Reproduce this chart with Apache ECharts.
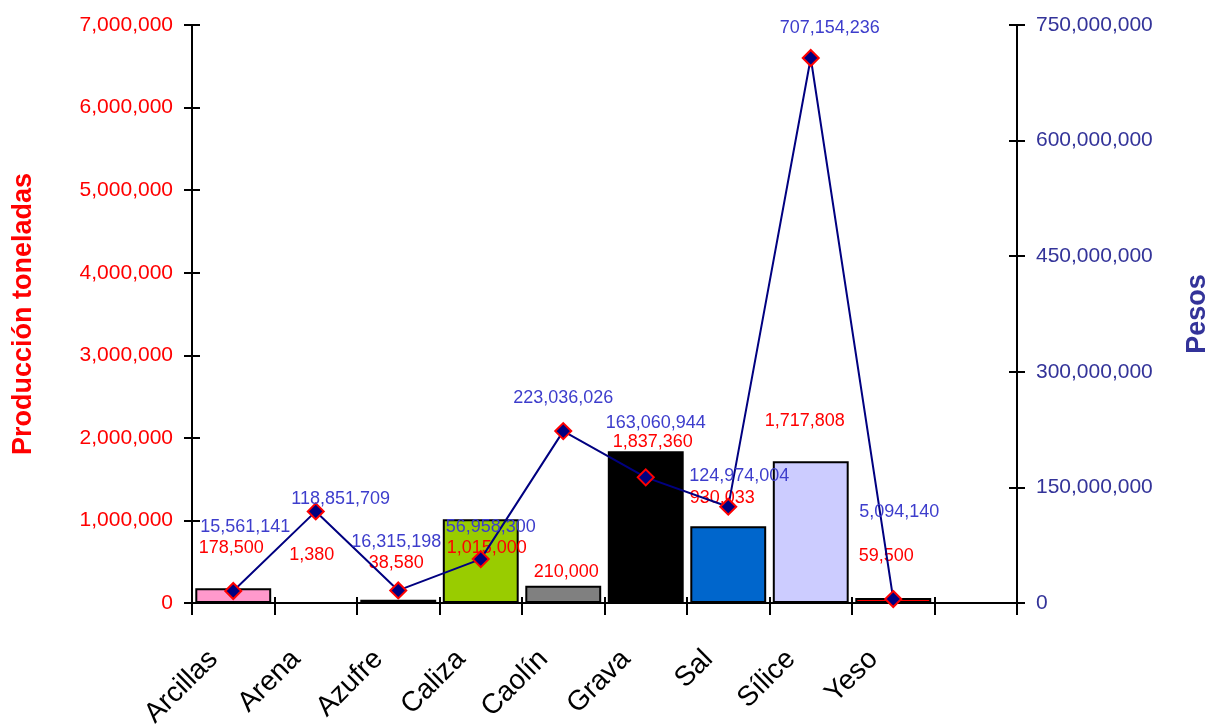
<!DOCTYPE html>
<html><head><meta charset="utf-8">
<script src="https://cdn.jsdelivr.net/npm/echarts@6/dist/echarts.min.js"></script>
<style>html,body{margin:0;padding:0;background:#fff;}#c{width:1207px;height:724px;}</style>
</head><body><div id="c"></div>
<script>
var categories = ['Arcillas','Arena','Azufre','Caliza','Caolín','Grava','Sal','Sílice','Yeso',''];
var produccion = [178500, 1380, 38580, 1015000, 210000, 1837360, 930033, 1717808, 59500];
var pesos = [15561141, 118851709, 16315198, 56958300, 223036026, 163060944, 124974004, 707154236, 5094140];
var leftTicks = {min: 0, max: 7000000, interval: 1000000};
var rightTicks = {min: 0, max: 750000000, interval: 150000000};

// styling (not data)
var barColors = ['#FF99CC','#FFFFFF','#000000','#99CC00','#808080','#000000','#0066CC','#CCCCFF','#FF0000'];
var barLabelOffsets = [[-2,-31],[-4,-38],[-2,-28],[6,38],[3,-5],[7,0],[-6,-19],[-6,-31],[-7,-33]];
var lineLabelOffsets = [[12,-64],[25,-12],[-2,-48],[10,-32],[0,-33],[10,-54],[11,-31],[19,-30],[6,-87]];

function fmt(v){ return Number(v).toLocaleString('en-US'); }
var FONT = 'Liberation Sans, Arial, sans-serif';

var barData = produccion.map(function(v,i){
  return {value: v, itemStyle:{color: barColors[i]}, label:{offset: barLabelOffsets[i]}};
});
var lineData = pesos.map(function(v,i){
  return {value: v, label:{offset: lineLabelOffsets[i]}};
});

var chart = echarts.init(document.getElementById('c'));
chart.setOption({
  animation: false,
  backgroundColor: '#fff',
  textStyle: {fontFamily: FONT},
  grid: {left: 192, right: 190, top: 25, bottom: 121, containLabel: false, outerBoundsMode: 'none'},
  xAxis: [{
    type: 'category', data: categories, boundaryGap: true,
    axisLine: {lineStyle: {color: '#000', width: 2}},
    axisTick: {show: true, alignWithLabel: false, length: 12, lineStyle: {color: '#000', width: 2}},
    axisLabel: {rotate: 45, fontSize: 28, color: '#000', fontFamily: FONT, margin: 32, interval: 0,
      padding: [0, 28, 0, 0]}
  },{
    type: 'category', data: categories, position: 'bottom', boundaryGap: true,
    axisLine: {show: false},
    axisTick: {show: true, inside: true, length: 6, lineStyle: {color: '#000', width: 2}},
    axisLabel: {show: false}
  }],
  yAxis: [{
    type: 'value', position: 'left', min: leftTicks.min, max: leftTicks.max, interval: leftTicks.interval,
    name: 'Producción toneladas', nameLocation: 'middle', nameGap: 155, nameRotate: 90,
    nameTextStyle: {color: '#FF0000', fontSize: 27, fontWeight: 'bold', fontFamily: FONT},
    axisLine: {show: true, lineStyle: {color: '#000', width: 2}},
    axisTick: {show: true, length: 8, lineStyle: {color: '#000', width: 2}},
    splitLine: {show: false},
    axisLabel: {color: '#FF0000', fontSize: 21, margin: 19, fontFamily: FONT, formatter: fmt}
  },{
    type: 'value', position: 'right', min: rightTicks.min, max: rightTicks.max, interval: rightTicks.interval,
    name: 'Pesos', nameLocation: 'middle', nameGap: 167, nameRotate: 90,
    nameTextStyle: {color: '#333399', fontSize: 27, fontWeight: 'bold', fontFamily: FONT},
    axisLine: {show: true, lineStyle: {color: '#000', width: 2}},
    axisTick: {show: true, length: 8, lineStyle: {color: '#000', width: 2}},
    splitLine: {show: false},
    axisLabel: {color: '#333399', fontSize: 21, margin: 19, fontFamily: FONT, formatter: fmt}
  },{
    type: 'value', position: 'left', min: leftTicks.min, max: leftTicks.max, interval: leftTicks.interval,
    axisLine: {show: false}, splitLine: {show: false}, axisLabel: {show: false},
    axisTick: {show: true, inside: true, length: 8, lineStyle: {color: '#000', width: 2}}
  },{
    type: 'value', position: 'right', min: rightTicks.min, max: rightTicks.max, interval: rightTicks.interval,
    axisLine: {show: false}, splitLine: {show: false}, axisLabel: {show: false},
    axisTick: {show: true, inside: true, length: 8, lineStyle: {color: '#000', width: 2}}
  }],
  series: [{
    type: 'bar', name: 'Producción', xAxisIndex: 0, yAxisIndex: 0,
    data: barData, barWidth: '92%',
    itemStyle: {borderColor: '#000', borderWidth: 2},
    label: {show: true, position: 'top', distance: 0, color: '#FF0000', fontSize: 18, fontFamily: FONT,
      formatter: function(p){ return fmt(p.value); }},
    z: 2
  },{
    type: 'line', name: 'Pesos', xAxisIndex: 0, yAxisIndex: 1,
    data: lineData,
    lineStyle: {color: '#000080', width: 2},
    symbol: 'diamond', symbolSize: 16,
    itemStyle: {color: '#000080', borderColor: '#FF0000', borderWidth: 2},
    label: {show: true, position: 'inside', color: '#3D3DCC', fontSize: 18, fontFamily: FONT,
      formatter: function(p){ return fmt(p.value); }},
    z: 3
  }]
});
</script></body></html>
